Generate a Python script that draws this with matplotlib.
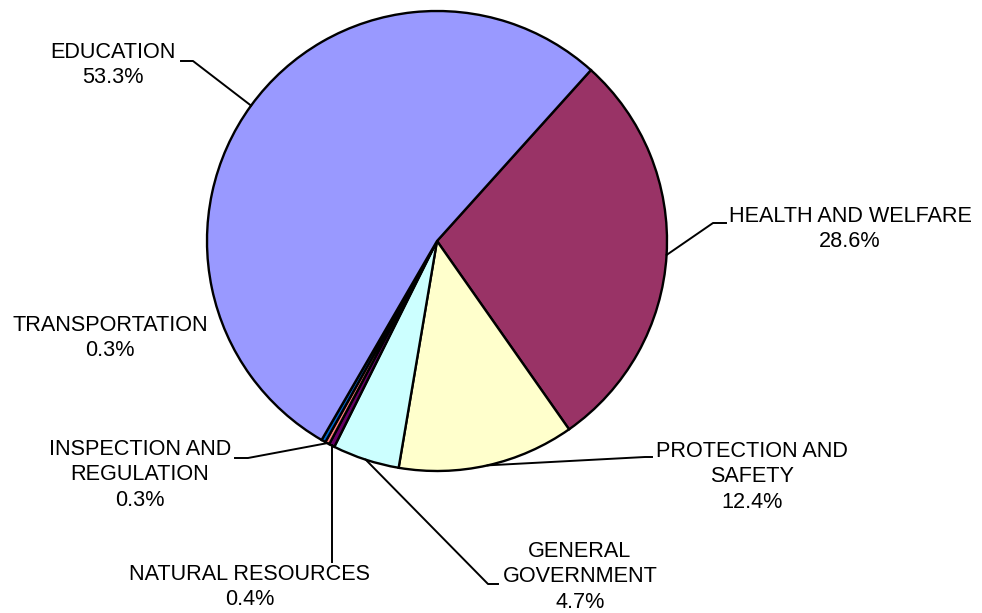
import matplotlib.pyplot as plt
import numpy as np

# categories listed clockwise, starting from the top-right edge of EDUCATION
categories = ['HEALTH AND WELFARE', 'PROTECTION AND\nSAFETY', 'GENERAL\nGOVERNMENT',
              'NATURAL RESOURCES', 'INSPECTION AND\nREGULATION', 'TRANSPORTATION', 'EDUCATION']
shares = [28.6, 12.4, 4.7, 0.4, 0.3, 0.3, 53.3]
colors = ['#993366', '#FFFFCC', '#CCFFFF', '#660066', '#FF8080', '#0066CC', '#9999FF']

W, H = 982, 613
cx, cy, r = 437, H - 241, 230
start = 48.0

plt.rcParams['font.family'] = ['Liberation Sans', 'DejaVu Sans']

fig = plt.figure(figsize=(W / 100, H / 100), dpi=100)
ax = fig.add_axes([0, 0, 1, 1])

wedges, _ = ax.pie(shares, colors=colors, startangle=start, counterclock=False,
                   center=(cx, cy), radius=r,
                   wedgeprops=dict(edgecolor='black', linewidth=1.7))

# label block centres and leader elbows, in pixel coords (y from top)
label_pos = [(850, 229), (752, 477), (580, 577), (250, 587), (140, 475), (110, 338), (113, 65)]
leaders = [[(713, 223), (726, 223)],
           [(645, 457), (652, 457)],
           [(488, 584), (498, 584)],
           [(None, 562)],
           [(248, 458), (235, 458)],
           None,
           [(193, 61), (181, 61)]]

for w, name, val, (lx, ly), lead in zip(wedges, categories, shares, label_pos, leaders):
    ax.text(lx, H - ly, f'{name}\n{val:.1f}%', ha='center', va='center',
            multialignment='center', fontsize=15.6, color='black', linespacing=1.3)
    if lead is None:
        continue
    mid = np.deg2rad((w.theta1 + w.theta2) / 2)
    ex, ey = cx + r * np.cos(mid), cy + r * np.sin(mid)
    xs, ys = [ex], [ey]
    for px, pyy in lead:
        xs.append(ex if px is None else px)
        ys.append(H - pyy)
    ax.plot(xs, ys, color='black', linewidth=1.4)

ax.set_xlim(0, W)
ax.set_ylim(0, H)
ax.set_aspect('equal')
ax.axis('off')

plt.savefig('out.png', dpi=100)
